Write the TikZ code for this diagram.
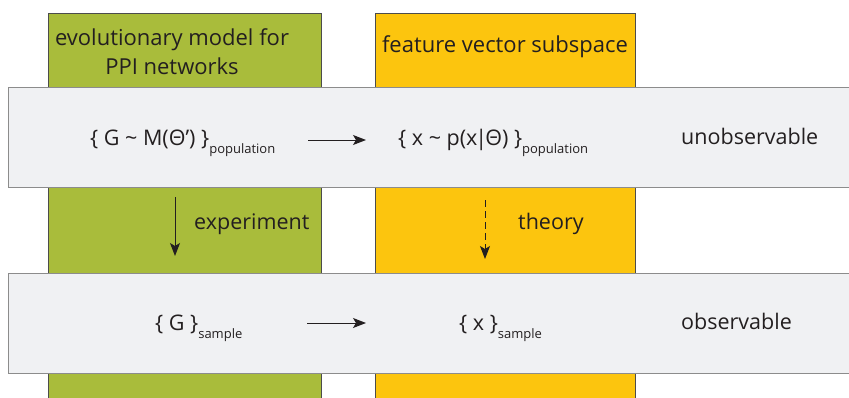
\documentclass[tikz,border=0pt]{standalone}
\usepackage{fontspec}
\setmainfont{Open Sans}
\usetikzlibrary{arrows.meta}
\definecolor{colgreen}{HTML}{A9BC3B}
\definecolor{colyellow}{HTML}{FCC50E}
\definecolor{bandfill}{HTML}{F0F1F3}
\definecolor{bandline}{HTML}{8C8C8C}
\definecolor{txt}{HTML}{231F20}
\newcommand{\subtxt}[1]{\raisebox{-0.4em}{\fontsize{13}{13}\selectfont #1}}
\tikzset{
  column/.style={draw=black!70, line width=0.6pt},
  band/.style={draw=bandline, fill=bandfill, line width=0.9pt},
  lbl/.style={inner sep=0pt, anchor=base west, font=\fontsize{21.5}{25}\selectfont, text=txt},
  hdr/.style={inner sep=0pt, align=center, font=\fontsize{22}{29}\selectfont, text=txt},
  arr/.style={line width=1pt, txt, -{Stealth[length=13pt,width=10pt,inset=3pt]}},
}
\begin{document}
\begin{tikzpicture}[x=1pt,y=-1pt]
\useasboundingbox (0,0) rectangle (849,397);
\clip (0,0) rectangle (849,397);
% columns
\path[column, fill=colgreen] (48.5,13) rectangle (321,410);
\path[column, fill=colyellow] (375,13) rectangle (635,410);
% bands
\path[band] (8,87) rectangle (860,187);
\path[band] (8,273) rectangle (860,373);
% headers
\node[hdr] (hgreen) at (172,52) {evolutionary model for\\PPI networks};
\node[hdr, anchor=base] (hyellow) at (505,52) {feature vector subspace};
% upper band
\node[lbl] (popG) at (90,145) {\{ G \char`\~{} M(Θ’) \}\subtxt{population}};
\node[lbl] (popX) at (398,145) {\{ x \char`\~{} p(x\kern-2pt|\kern-2ptΘ) \}\subtxt{population}};
\node[lbl] (unobs) at (681,144) {unobservable};
% lower band
\node[lbl] (smpG) at (155,330) {\{ G \}\subtxt{sample}};
\node[lbl] (smpX) at (459,330) {\{ x \}\subtxt{sample}};
\node[lbl] (obs) at (681,329) {observable};
% middle labels
\node[lbl] (exp) at (194,229) {experiment};
\node[lbl] (theo) at (518,229) {theory};
% arrow ends
\coordinate (a1s) at (308,140);
\coordinate (a1e) at (366,140);
\coordinate (a2s) at (307,323);
\coordinate (a2e) at (366,323);
\coordinate (a3s) at (175,197);
\coordinate (a3e) at (175,256);
\coordinate (a4s) at (485,200);
\coordinate (a4e) at (485,259);
\draw[arr] (a1s) -- (a1e);
\draw[arr] (a2s) -- (a2e);
\draw[arr] (a3s) -- (a3e);
\draw[arr, dash pattern=on 7pt off 4pt] (a4s) -- (a4e);
\end{tikzpicture}
\end{document}
